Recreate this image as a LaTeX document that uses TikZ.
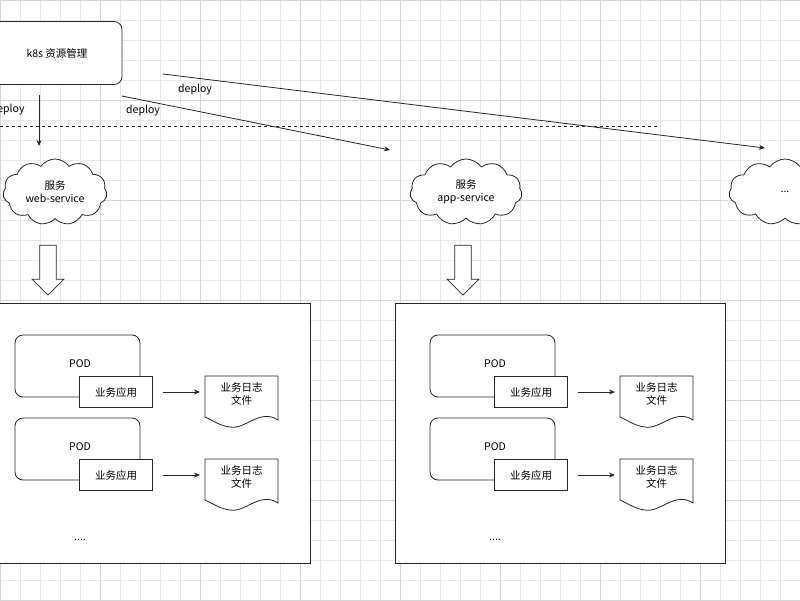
\documentclass[tikz,border=0pt]{standalone}
\usepackage{fontspec}
\setmainfont{Noto Sans CJK SC}
\usetikzlibrary{shapes.symbols,shapes.arrows,arrows.meta}
\begin{document}
\begin{tikzpicture}[x=1pt,y=-1pt,font=\fontsize{10.5}{13}\selectfont,
  ln/.style={draw=black!85,line width=0.8pt},
  arr/.style={ln,-{Stealth[length=6pt,width=5pt]}},
  rbox/.style={ln,rounded corners=8pt,fill=white},
  appbox/.style={ln,fill=white,minimum width=73pt,minimum height=31pt,inner sep=0pt},
  cloudn/.style={ln,cloud,cloud puffs=11,cloud puff arc=110,aspect=1.6,fill=white,align=center,inner sep=0pt},
  barrow/.style={ln,single arrow,shape border rotate=270,fill=white,minimum width=32pt,single arrow head extend=5pt,single arrow tip angle=90,minimum height=50pt,inner sep=5pt}]
\useasboundingbox (0,0) rectangle (800,600);
\fill[white] (0,0) rectangle (800,600);
\begin{scope}
\clip (0,0) rectangle (800,600);
\foreach \i in {0,20,...,800}{\draw[black!9,line width=0.4pt] (\i,0) -- (\i,600);}
\foreach \i in {0,20,...,600}{\draw[black!9,line width=0.4pt] (0,\i) -- (800,\i);}
\foreach \i in {0,100,...,800}{\draw[black!16,line width=0.5pt] (\i,0) -- (\i,600);}
\foreach \i in {0,100,...,600}{\draw[black!16,line width=0.5pt] (0,\i) -- (800,\i);}
\node[rbox,minimum width=130pt,minimum height=63pt] (k8s) at (57,53) {k8s 资源管理};
\draw[ln,dashed] (0,126) -- (660,126);
\node[cloudn,minimum width=104pt,minimum height=66pt] (c1) at (55,192) {服务\\web-service};
\node[cloudn,minimum width=112pt,minimum height=66pt] (c2) at (466,192) {服务\\app-service};
\node[cloudn,minimum width=112pt,minimum height=66pt] (c3) at (785,192) {...};
\coordinate (a1) at (39,95); \coordinate (b1) at (39,146);
\draw[arr] (a1) -- (b1);
\node[anchor=east] (d1) at (28,110) {deploy};
\coordinate (a2) at (122,96); \coordinate (b2) at (390,150);
\draw[arr] (a2) -- (b2);
\node (d2) at (143,111) {deploy};
\coordinate (a3) at (163,74); \coordinate (b3) at (765,148);
\draw[arr] (a3) -- (b3);
\node (d3) at (195,90) {deploy};
\foreach \dx/\n in {0/L,415/R}{
  \node[barrow] (ba\n) at (48+\dx,266) {};
  \draw[ln,fill=white] (-20+\dx,303) rectangle (310+\dx,563);
  \foreach \dy/\m in {0/a,83/b}{
    \draw[rbox] (15+\dx,335+\dy) rectangle (140+\dx,397+\dy);
    \node (pod\n\m) at (80+\dx,364+\dy) {POD};
    \node[appbox] (app\n\m) at (116+\dx,392+\dy) {业务应用};
    \draw[ln,fill=white] (205+\dx,376+\dy) coordinate (doc\n\m)
      -- (278+\dx,376+\dy) -- (278+\dx,420+\dy)
      .. controls (260+\dx,408+\dy) and (245+\dx,430+\dy) .. (230+\dx,427+\dy)
      .. controls (220+\dx,426+\dy) and (212+\dx,420+\dy) .. (205+\dx,417+\dy) -- cycle;
    \node[align=center] (txt\n\m) at (241.5+\dx,394+\dy) {业务日志\\文件};
    \coordinate (e\n\m) at (200+\dx,392+\dy);
    \draw[arr] ([xshift=10pt]app\n\m.east) -- (e\n\m);
  }
  \node (dots\n) at (80+\dx,540) {....};
}
\end{scope}
\end{tikzpicture}
\end{document}
